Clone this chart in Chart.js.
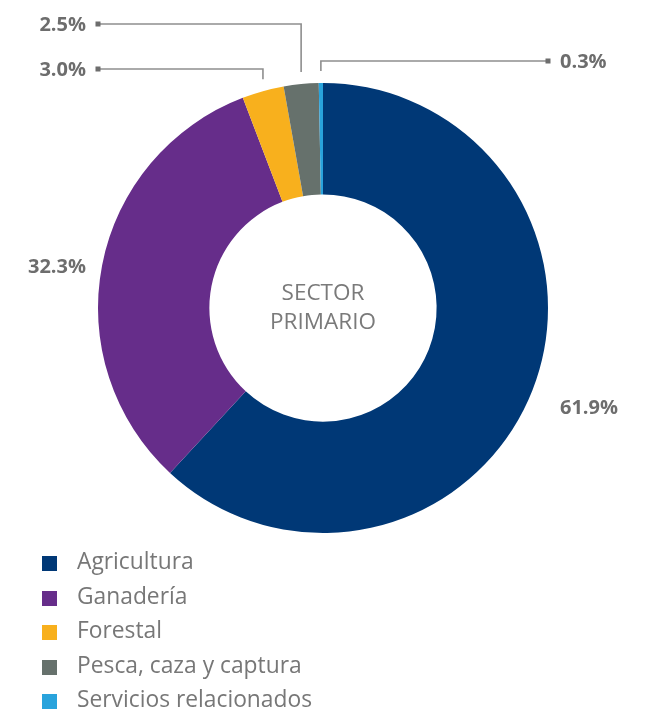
<!DOCTYPE html>
<html>
<head>
<meta charset="utf-8">
<script src="https://cdn.jsdelivr.net/npm/chart.js@4.4.1/dist/chart.umd.min.js"></script>
<style>
  html, body { margin: 0; padding: 0; background: #ffffff; }
  #wrap { position: relative; width: 654px; height: 711px; overflow: hidden; }
  #c { position: absolute; left: 0; top: 0; }
  #legend { position: absolute; left: 42px; top: 544px; margin: 0; padding: 0; list-style: none;
            font-family: "Open Sans", sans-serif; font-size: 22.8px; color: #777777; }
  #legend li { height: 34.5px; line-height: 34.5px; position: relative; padding-left: 35px; white-space: nowrap; }
  #legend li span { position: absolute; left: 0; top: 12px; width: 15px; height: 15px; }
</style>
</head>
<body>
<div id="wrap">
  <canvas id="c" width="654" height="711"></canvas>
  <ul id="legend"></ul>
</div>
<script>
const categories = ["Agricultura", "Ganadería", "Forestal", "Pesca, caza y captura", "Servicios relacionados"];
const shares = [61.9, 32.3, 3.0, 2.5, 0.3];
const percentLabels = ["61.9%", "32.3%", "3.0%", "2.5%", "0.3%"];
const sliceColors = ["#003876", "#662d8a", "#f8b01d", "#66716c", "#29a3dc"];
const centerLines = ["SECTOR", "PRIMARIO"];

// legend (HTML)
const ul = document.getElementById('legend');
categories.forEach((name, i) => {
  const li = document.createElement('li');
  const sw = document.createElement('span');
  sw.style.background = sliceColors[i];
  li.appendChild(sw);
  li.appendChild(document.createTextNode(name));
  ul.appendChild(li);
});

const labelPlugin = {
  id: 'sliceLabels',
  afterDraw(chart, args, opts) {
    const ctx = chart.ctx;
    const meta = chart.getDatasetMeta(0);
    const area = chart.chartArea;
    ctx.save();
    ctx.font = 'bold 20px "Open Sans", sans-serif';
    ctx.fillStyle = '#6d6d6d';
    ctx.textBaseline = 'middle';
    opts.placements.forEach(p => {
      const arc = meta.data[p.index];
      const props = arc.getProps(['x', 'y', 'startAngle', 'endAngle', 'outerRadius'], true);
      const mid = (props.startAngle + props.endAngle) / 2;
      const px = props.x + Math.cos(mid) * props.outerRadius;
      const py = props.y + Math.sin(mid) * props.outerRadius;
      const edgeX = p.side === 'left' ? area.left : area.right;
      const text = percentLabels[p.index];
      if (p.leader) {
        const levelY = area.top + p.level;
        ctx.strokeStyle = '#8e8e8e';
        ctx.lineWidth = 1.6;
        ctx.beginPath();
        ctx.moveTo(px, py - 12);
        ctx.lineTo(px, levelY);
        ctx.lineTo(edgeX, levelY);
        ctx.stroke();
        ctx.fillStyle = '#6d6d6d';
        ctx.fillRect(edgeX - 2.5, levelY - 2.5, 5, 5);
        ctx.textAlign = p.side === 'left' ? 'right' : 'left';
        ctx.fillText(text, p.side === 'left' ? edgeX - 12 : edgeX + 12, levelY + 1);
      } else {
        ctx.textAlign = p.side === 'left' ? 'right' : 'left';
        ctx.fillText(text, p.side === 'left' ? edgeX - 12 : edgeX + 12, py + p.dy);
      }
    });
    // center text
    const a0 = meta.data[0];
    ctx.font = '22.5px "Open Sans", sans-serif';
    ctx.fillStyle = '#7a7a7a';
    ctx.textAlign = 'center';
    ctx.fillText(centerLines[0], a0.x, a0.y - 14);
    ctx.fillText(centerLines[1], a0.x, a0.y + 15);
    ctx.restore();
  }
};

new Chart(document.getElementById('c'), {
  type: 'doughnut',
  data: {
    labels: categories,
    datasets: [{
      data: shares,
      backgroundColor: sliceColors,
      borderWidth: 0,
      hoverOffset: 0
    }]
  },
  options: {
    responsive: false,
    animation: false,
    cutout: '50.5%',
    layout: { padding: { left: 98, right: 106, top: 83, bottom: 178 } },
    plugins: {
      legend: { display: false },
      tooltip: { enabled: false },
      sliceLabels: {
        placements: [
          { index: 0, side: 'right', leader: false, dy: 18 },
          { index: 1, side: 'left', leader: false, dy: 2 },
          { index: 2, side: 'left', leader: true, level: -14 },
          { index: 3, side: 'left', leader: true, level: -59 },
          { index: 4, side: 'right', leader: true, level: -22 }
        ]
      }
    }
  },
  plugins: [labelPlugin]
});
</script>
</body>
</html>
